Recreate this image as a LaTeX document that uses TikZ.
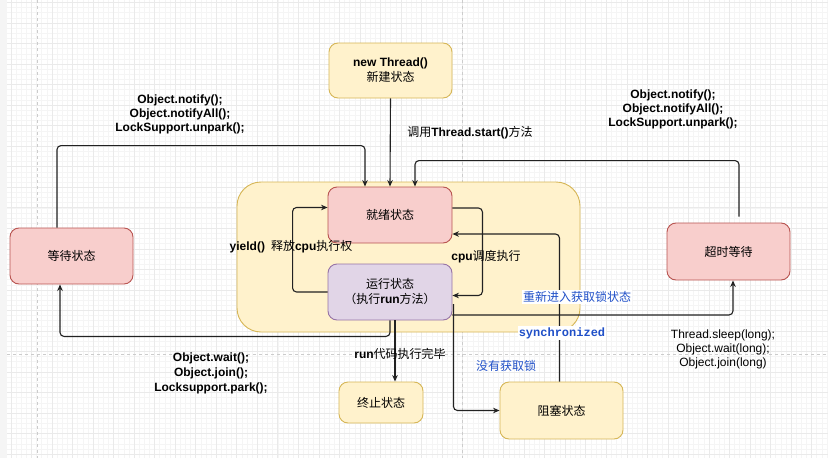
\documentclass[tikz,border=0pt]{standalone}
\usepackage{fontspec}
\setmainfont{Liberation Sans}
\newfontfamily\cjk{Noto Sans CJK SC}
\newfontfamily\monob{Liberation Mono}
\usetikzlibrary{arrows.meta,calc}
\definecolor{yfill}{HTML}{FFF2CC}
\definecolor{ystroke}{HTML}{D6B656}
\definecolor{pfill}{HTML}{F8CECC}
\definecolor{pstroke}{HTML}{B85450}
\definecolor{vfill}{HTML}{E1D5E7}
\definecolor{vstroke}{HTML}{9673A6}
\definecolor{bluetxt}{HTML}{2050C8}
\definecolor{gridminor}{HTML}{F5F5F5}
\definecolor{gridmajor}{HTML}{EAEAEA}
\definecolor{linecol}{HTML}{222222}
\tikzset{
  x=1pt, y=-1pt,
  box/.style={rounded corners=9pt, line width=0.9pt, align=center,
    font=\fontsize{12}{15}\selectfont, inner sep=2pt},
  ybox/.style={box, fill=yfill, draw=ystroke},
  pbox/.style={box, fill=pfill, draw=pstroke},
  vbox/.style={box, fill=vfill, draw=vstroke},
  arr/.style={draw=linecol, line width=1.1pt, rounded corners=4pt,
    -{Stealth[length=6.5pt,width=5.5pt]}},
  lbl/.style={font=\fontsize{12}{14}\selectfont, align=center, inner sep=1pt},
  blbl/.style={lbl, text=bluetxt},
}
\begin{document}
\begin{tikzpicture}
\useasboundingbox (0,0) rectangle (828,458);
% canvas
\fill[white] (0,0) rectangle (828,458);
\fill[black!4] (0,0) rectangle (7,458);
\begin{scope}
\clip (7,0) rectangle (828,458);
\foreach \i in {0,...,162} {\draw[gridminor, line width=0.5pt] ({0.635+\i*5.1325},0) -- ++(0,458);}
\foreach \i in {0,...,90} {\draw[gridminor, line width=0.5pt] (0,{2.47+\i*5.1325}) -- ++(828,0);}
\foreach \i in {0,...,40} {\draw[gridmajor, line width=0.6pt] ({10.9+\i*20.53},0) -- ++(0,458);}
\foreach \i in {0,...,22} {\draw[gridmajor, line width=0.6pt] (0,{2.47+\i*20.53}) -- ++(828,0);}
\draw[black!20, line width=0.6pt, dash pattern=on 3pt off 3pt] (37,0) -- (37,458);
\draw[black!20, line width=0.6pt, dash pattern=on 3pt off 3pt] (462,0) -- (462,458);
\draw[black!20, line width=0.6pt, dash pattern=on 3pt off 3pt] (7,354) -- (828,354);
\end{scope}

% container
\node[fill=yfill, draw=ystroke, line width=0.9pt, rounded corners=24pt,
  minimum width=343pt, minimum height=150pt, inner sep=0pt] (pool) at (408.5,257) {};

% nodes
\node[ybox, minimum width=123pt, minimum height=55pt] (new) at (390.5,70.5)
  {\textbf{new Thread()}\\{\cjk 新建状态}};
\node[pbox, minimum width=124pt, minimum height=56pt] (ready) at (390,215) {\cjk 就绪状态};
\node[vbox, minimum width=124pt, minimum height=56pt] (run) at (390,292)
  {{\cjk 运行状态}\\{\cjk （执行}\textbf{run}{\cjk 方法）}};
\node[pbox, minimum width=123pt, minimum height=56pt] (wait) at (71.5,256) {\cjk 等待状态};
\node[pbox, minimum width=123pt, minimum height=57pt] (timed) at (728.5,251.5) {\cjk 超时等待};
\node[ybox, minimum width=84pt, minimum height=41pt] (term) at (381,402.5) {\cjk 终止状态};
\node[ybox, minimum width=123pt, minimum height=57pt] (block) at (561.5,410.5) {\cjk 阻塞状态};

% connectors
\draw[arr] (new.south) -- (ready.north);
\node[lbl] (lstart) at (470,133) {{\cjk 调用}\textbf{Thread.start()}{\cjk 方法}};

\draw[arr] ([xshift=-14.5]wait.north) -- ++(0,-82) -| ([xshift=-25]ready.north);
\node[lbl, font=\bfseries\fontsize{12}{14}\selectfont] (lnotify1) at (180,114)
  {Object.notify();\\Object.notifyAll();\\LockSupport.unpark();};

\draw[arr] ([xshift=10.5,yshift=6]timed.north) -- ++(0,-56) -| ([xshift=25]ready.north);
\node[lbl, font=\bfseries\fontsize{12}{14}\selectfont] (lnotify2) at (673,109)
  {Object.notify();\\Object.notifyAll();\\LockSupport.unpark();};

\draw[arr] ([yshift=7]ready.east) -- ++(30,0) |- ([yshift=-3.5]run.east);
\node[lbl] (lcpu) at (486,257) {\textbf{cpu}{\cjk 调度执行}};

\draw[arr] (run.west) -- ++(-35,0) |- ([yshift=7.5]ready.west);
\node[lbl] (lyield) at (291,247) {\textbf{yield()}\hspace{6pt}{\cjk 释放}\textbf{cpu}{\cjk 执行权}};

\draw[arr] ([yshift=-23]run.east) -| ([xshift=4.5]timed.south);
\node[lbl] (lsleep) at (723,349) {Thread.sleep(long);\\Object.wait(long);\\Object.join(long)};

\draw[arr] (run.south) -- ++(0,16) -| ([xshift=-11.5]wait.south);
\node[lbl, font=\bfseries\fontsize{12}{15}\selectfont] (lwaitm) at (211,373)
  {Object.wait();\\Object.join();\\Locksupport.park();};

\draw[arr] ([xshift=5]run.south) -- ([xshift=14]term.north);
\node[lbl] (lrun) at (400,354) {\textbf{run}{\cjk 代码执行完毕}};

\draw[arr] ([xshift=1,yshift=-12]run.east) |- (block.west);
\node[blbl] (lnolock) at (506,366) {\cjk 没有获取锁};

\draw[arr] ([xshift=-2]block.north) |- ([yshift=-19]ready.east);
\node[blbl, fill=white] (lreenter) at (577,297) {\cjk 重新进入获取锁状态};
\node[blbl, fill=white, font=\monob\bfseries\fontsize{12}{14}\selectfont] (lsync) at (562,333) {synchronized};
\end{tikzpicture}
\end{document}
